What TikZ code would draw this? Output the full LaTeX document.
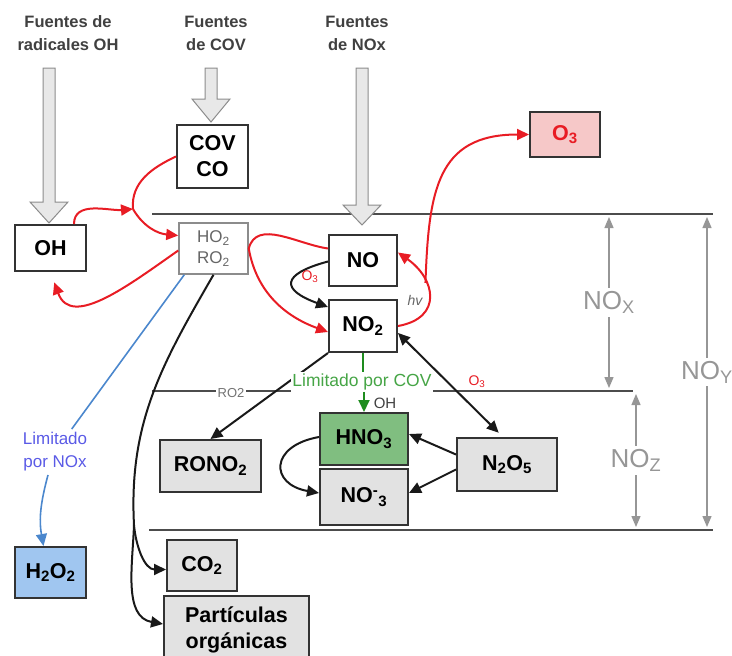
\documentclass[tikz,border=0pt]{standalone}
\usepackage{fontspec}
\setmainfont{Liberation Sans}
\usepackage{xcolor}
\usetikzlibrary{arrows.meta}

\definecolor{arrowred}{RGB}{232,28,36}
\definecolor{o3pink}{RGB}{246,200,200}
\definecolor{boxgray}{RGB}{226,226,226}
\definecolor{hnogreen}{RGB}{128,190,128}
\definecolor{h2o2blue}{RGB}{160,198,240}
\definecolor{covgreen}{RGB}{70,165,70}
\definecolor{arrowgreen}{RGB}{30,140,30}
\definecolor{noxblue}{RGB}{75,135,205}
\definecolor{noxtext}{RGB}{90,90,230}
\definecolor{dimgray}{RGB}{150,150,150}

\begin{document}
\begin{tikzpicture}[x=1pt, y=-1pt,
  >={Triangle[length=12pt,width=11pt]},
  box/.style={rectangle, draw=black!80, line width=2pt, fill=white, align=center, inner sep=0pt, font=\fontsize{21.5}{26}\selectfont\bfseries},
  source/.style={align=center, text=black!75, font=\fontsize{16.5}{23}\selectfont\bfseries},
  srcarrow/.style={draw=black!45, fill=black!9, line width=1pt},
  level/.style={draw=black!70, line width=2.5pt},
  dim/.style={draw=dimgray, line width=1.3pt, <->, >={Triangle[length=11pt,width=9pt]}},
  dimlabel/.style={fill=white, text=dimgray, inner sep=3pt, font=\fontsize{26}{28}\selectfont},
  redline/.style={draw=arrowred, line width=2pt},
  blackline/.style={draw=black!90, line width=2pt},
  small/.style={fill=white, inner sep=1.5pt, font=\fontsize{14}{16}\selectfont}]
  \useasboundingbox (0,0) rectangle (732,656);

  % Levels
  \draw[level] (152,214) -- (713,214);
  \draw[level] (152,391) -- (633,391);
  \draw[level] (149,530) -- (713,530);

  % Families
  \draw[dim] (609,217) -- node[dimlabel] {NO\textsubscript{X}} (609,388);
  \draw[dim] (636,394) -- node[dimlabel] {NO\textsubscript{Z}} (636,527);
  \draw[dim] (707,217) -- node[dimlabel] {NO\textsubscript{Y}} (707,527);

  % Sources
  \node[source] (srcOH) at (68,33) {Fuentes de\\radicales OH};
  \node[source] (srcCOV) at (216,33) {Fuentes\\de COV};
  \node[source] (srcNOx) at (357,33) {Fuentes\\de NOx};
  \foreach \x/\yh/\yt in {49/202/223, 211/99/122, 362/205/225}
    \draw[srcarrow] ({\x-6},68) -- ({\x-6},\yh) -- ({\x-19},\yh) -- (\x,\yt) -- ({\x+19},\yh) -- ({\x+6},\yh) -- ({\x+6},68) -- cycle;

  % Define species
  \node[box, minimum width=71pt, minimum height=63pt] (COV) at (212.5,156.5) {COV\\CO};
  \node[box, fill=o3pink, text=arrowred, minimum width=70pt, minimum height=45pt] (O3) at (565,134.5) {O\textsubscript{3}};
  \node[box, minimum width=71pt, minimum height=46pt] (OH) at (50.5,248) {OH};
  \node[box, draw=black!45, line width=1.5pt, text=black!60, font=\fontsize{17}{21}\selectfont, minimum width=69pt, minimum height=51pt] (HORO) at (213.5,248.5) {HO\textsubscript{2}\\RO\textsubscript{2}};
  \node[box, minimum width=68pt, minimum height=51pt] (NO) at (363,260.5) {NO};
  \node[box, minimum width=68pt, minimum height=52pt] (NO2) at (363,326) {NO\textsubscript{2}};
  \node[box, fill=hnogreen, minimum width=88pt, minimum height=52pt] (HNO3) at (364,439) {HNO\textsubscript{3}};
  \node[box, fill=boxgray, minimum width=88pt, minimum height=56pt] (NO3) at (364,497) {NO\textsuperscript{-}\textsubscript{3}};
  \node[box, fill=boxgray, minimum width=100pt, minimum height=53pt] (N2O5) at (507,464.5) {N\textsubscript{2}O\textsubscript{5}};
  \node[box, fill=boxgray, minimum width=101pt, minimum height=52pt] (RONO2) at (210.5,466) {RONO\textsubscript{2}};
  \node[box, fill=h2o2blue, minimum width=71pt, minimum height=51pt] (H2O2) at (50.5,572.5) {H\textsubscript{2}O\textsubscript{2}};
  \node[box, fill=boxgray, minimum width=70pt, minimum height=51pt] (CO2) at (202,565.5) {CO\textsubscript{2}};
  \node[box, fill=boxgray, minimum width=145pt, minimum height=68pt] (part) at (236.5,630) {Partículas\\orgánicas};

  % Radical cycle
  \coordinate (mix) at (133,209);
  \draw[redline, ->] ([xshift=-13pt]OH.north east) to[out=90, in=185] (mix);
  \draw[redline] (COV.west) to[out=205, in=95] (mix);
  \draw[redline, ->] (mix) to[out=-60, in=175] ([yshift=13pt]HORO.west);
  \draw[redline, ->, shorten >=11pt] ([yshift=-2pt]HORO.west) to[out=215, in=-70, looseness=1.2] (OH.south);
  \draw[redline, ->] ([yshift=12pt]NO.west) to[out=172, in=75] (HORO.east) to[out=-80, in=160] ([yshift=-6pt]NO2.west);
  \draw[blackline, ->] ([yshift=-1pt]NO.west) to[out=195, in=160, looseness=2.8] ([yshift=19pt]NO2.west);
  \node[small, fill=none, text=arrowred] (o3a) at (310,277) {O\textsubscript{3}};
  \draw[redline, ->] (NO2.east) to[out=10, in=-35, looseness=1.6] coordinate[pos=0.65] (split) ([yshift=8pt]NO.east);
  \node[small, fill=none, text=black!60, font=\fontsize{14}{16}\selectfont\itshape] (hv) at (415,300) {hv};
  \draw[redline, ->] (split) to[out=88, in=180, looseness=1.3] (O3.west);

  % Organic products
  \coordinate (branch) at (134,525);
  \draw[blackline] (HORO.south) to[out=-120, in=93] (branch);
  \draw[blackline, ->] (branch) to[out=-85, in=180] ([yshift=-4pt]CO2.west);
  \draw[blackline, ->] (branch) to[out=-92, in=170] ([yshift=6pt]part.west);

  % Peroxide path
  \node[align=center, text=noxtext, font=\fontsize{17}{23}\selectfont] (limNOx) at (55,452) {Limitado\\por NOx};
  \draw[draw=noxblue, line width=1.6pt] ([xshift=6pt]HORO.south west) -- (limNOx);
  \draw[draw=noxblue, line width=1.6pt, ->] ([xshift=-7pt]limNOx.south) to[out=-105, in=100] ([xshift=-7pt]H2O2.north);

  % Nitrogen sinks
  \draw[blackline, ->] (NO2.south west) -- (RONO2.north);
  \node[small, text=black!55, font=\fontsize{13}{15}\selectfont] (ro2) at (231,393) {RO2};
  \node[small, text=covgreen, font=\fontsize{17.5}{19}\selectfont] (limCOV) at (362,382) {Limitado por COV};
  \draw[draw=arrowgreen, line width=2pt] (NO2.south) -- (NO2.south |- limCOV.north);
  \draw[draw=arrowgreen, line width=2pt, ->] (HNO3.north |- limCOV.south) -- (HNO3.north);
  \node[small, fill=none, text=black!75, font=\fontsize{15}{17}\selectfont] (ohlbl) at (385,403) {OH};
  \node[small, text=arrowred] (o3b) at (477,382) {O\textsubscript{3}};
  \draw[blackline, <->, shorten >=6pt] ([yshift=-7pt]NO2.east) -- ([xshift=-4pt]N2O5.north);
  \draw[blackline, ->] ([yshift=10pt]N2O5.west) -- ([yshift=5pt]HNO3.east);
  \draw[blackline, ->] ([yshift=-5pt]N2O5.west) -- ([yshift=4pt]NO3.east);
  \draw[blackline, ->] ([yshift=2pt]HNO3.west) to[out=190, in=170, looseness=2.3] ([yshift=4pt]NO3.west);
\end{tikzpicture}
\end{document}
